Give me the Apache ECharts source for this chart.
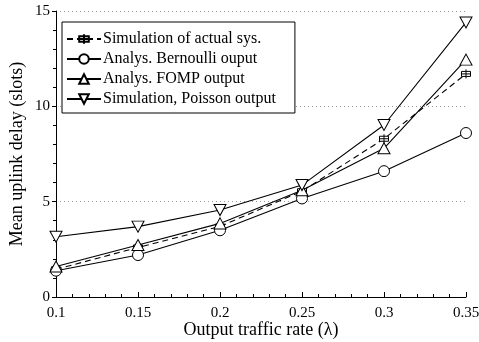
<!DOCTYPE html>
<html><head><meta charset="utf-8">
<script src="https://cdn.jsdelivr.net/npm/echarts@6/dist/echarts.min.js"></script>
<style>html,body{margin:0;padding:0;background:#fff}#c{width:479px;height:342px}</style>
</head><body><div id="c"></div>
<script>
const xValues = [0.1, 0.15, 0.2, 0.25, 0.3, 0.35];
const simActual = [1.45, 2.6, 3.7, 5.55, 8.3, 11.7];
const bernoulli = [1.38, 2.2, 3.5, 5.17, 6.6, 8.6];
const fomp = [1.6, 2.73, 3.86, 5.6, 7.8, 12.45];
const poisson = [3.16, 3.69, 4.56, 5.87, 9.02, 14.4];
const seriesNames = ['Simulation of actual sys.', 'Analys. Bernoulli ouput', 'Analys. FOMP output', 'Simulation, Poisson output'];

const font = 'Liberation Serif, DejaVu Serif, serif';
const pairs = a => xValues.map((x, i) => [x, a[i]]);
const sqSym = 'path://M0,0 L10,0 L10,10 L0,10 Z M0,5 L10,5 M5,-4 L5,14';
const triUp = 'path://M5,0 L10,9 L0,9 Z';
const triDown = 'path://M0,0 L10,0 L5,9 Z';

function mk(name, data, symbol, dashed, size) {
  return {
    name, type: 'line', data: pairs(data), symbol, symbolSize: size,
    itemStyle: { color: '#fff', borderColor: '#000', borderWidth: 1 },
    lineStyle: { color: '#000', width: 1.1, type: dashed ? [6, 4] : 'solid' },
    emphasis: { disabled: true }, animation: false, z: 2
  };
}
const chart = echarts.init(document.getElementById('c'));
chart.setOption({
  backgroundColor: '#fff',
  animation: false,
  textStyle: { fontFamily: font },
  grid: { left: 56, right: 13, top: 11, bottom: 45, outerBoundsMode: 'none', containLabel: false },
  legend: {
    orient: 'vertical', left: 62, top: 22, padding: [9, 19, 6, 4], itemGap: 4,
    itemWidth: 34, itemHeight: 12,
    borderColor: '#000', borderWidth: 1, backgroundColor: '#fff',
    textStyle: { fontFamily: font, fontSize: 16, color: '#000', padding: [0, 0, 0, -3] },
    data: seriesNames
  },
  xAxis: {
    type: 'value', min: 0.1, max: 0.35, interval: 0.05,
    name: 'Output traffic rate (λ)', nameLocation: 'middle', nameGap: 24, nameMoveOverlap: false,
    nameTextStyle: { fontFamily: font, fontSize: 18, color: '#000' },
    axisLine: { lineStyle: { color: '#000', width: 1 } },
    axisTick: { inside: true, length: 5, lineStyle: { color: '#000' } },
    minorTick: { show: true, splitNumber: 5, length: 3, lineStyle: { color: '#000' } },
    axisLabel: { fontFamily: font, fontSize: 15, color: '#000', margin: 9,
      formatter: v => String(+v.toFixed(2)) },
    splitLine: { show: false }
  },
  yAxis: {
    type: 'value', min: 0, max: 15, interval: 5,
    name: 'Mean uplink delay (slots)', nameLocation: 'middle', nameGap: 30, nameMoveOverlap: false,
    nameTextStyle: { fontFamily: font, fontSize: 18, color: '#000' },
    axisLine: { show: true, lineStyle: { color: '#000', width: 1 } },
    axisTick: { show: true, length: 4, lineStyle: { color: '#000' } },
    minorTick: { show: true, splitNumber: 5, length: 3, lineStyle: { color: '#000' } },
    axisLabel: { fontFamily: font, fontSize: 15, color: '#000', margin: 6 },
    splitLine: { show: true, lineStyle: { color: '#999', type: [1, 3], width: 1 } }
  },
  series: [
    mk(seriesNames[0], simActual, sqSym, true, [9, 9]),
    mk(seriesNames[1], bernoulli, 'circle', false, 11),
    mk(seriesNames[2], fomp, triUp, false, [12, 11]),
    mk(seriesNames[3], poisson, triDown, false, [12, 11])
  ]
});
</script></body></html>
